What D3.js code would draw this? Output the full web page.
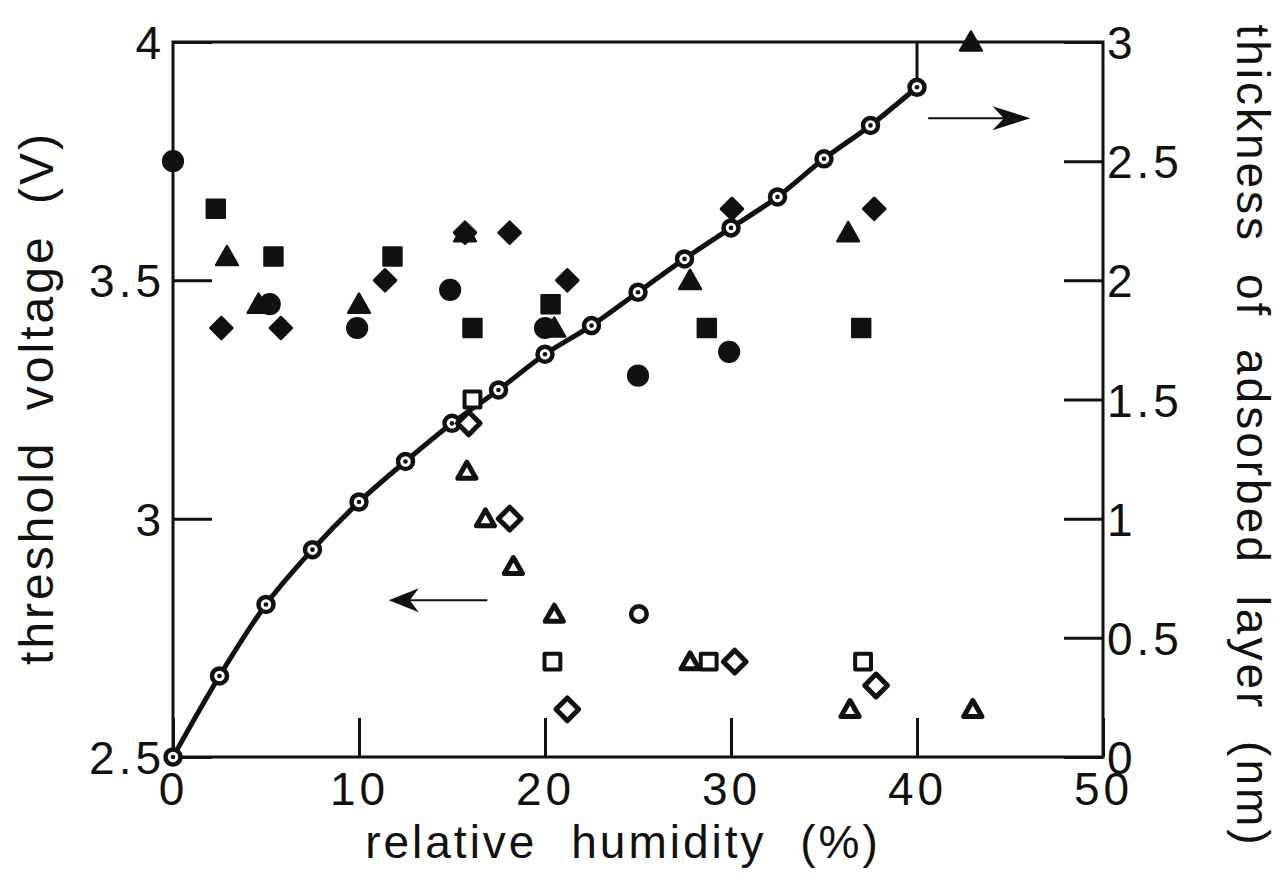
<!DOCTYPE html>
<html>
<head>
<meta charset="utf-8">
<script src="https://cdn.jsdelivr.net/npm/d3@7"></script>
<style>
  html, body { margin: 0; padding: 0; background: #fff; }
  svg { display: block; }
  text { font-family: "Liberation Sans", Arial, Helvetica, sans-serif; fill: #111; }
</style>
</head>
<body>
<svg id="chart" width="1281" height="874"></svg>
<script>
// ---- data ----
const humidityTicks = [0, 10, 20, 30, 40, 50];
const voltageTicks = [2.5, 3, 3.5, 4];
const voltageTickLabels = ["2.5", "3", "3.5", "4"];
const thicknessTicks = [0, 0.5, 1, 1.5, 2, 2.5, 3];
const thicknessTickLabels = ["0", "0.5", "1", "1.5", "2", "2.5", "3"];

// adsorbed layer thickness curve (right axis)
const curveHumidity = [0, 2.5, 5, 7.5, 10, 12.5, 15, 17.5, 20, 22.5, 25, 27.5, 30, 32.5, 35, 37.5, 40];
const curveThickness = [0, 0.34, 0.64, 0.87, 1.07, 1.24, 1.40, 1.54, 1.69, 1.81, 1.95, 2.09, 2.22, 2.35, 2.51, 2.65, 2.81];

// threshold voltage scatter (left axis)
const filledCircleX = [0, 5.2, 9.9, 14.9, 20.0, 25.0, 29.9];
const filledCircleV = [3.75, 3.45, 3.40, 3.48, 3.40, 3.30, 3.35];
const filledSquareX = [2.3, 5.4, 11.8, 16.1, 20.3, 28.7, 37.0];
const filledSquareV = [3.65, 3.55, 3.55, 3.40, 3.45, 3.40, 3.40];
const filledTriangleX = [2.9, 4.6, 10.0, 15.7, 20.5, 27.8, 36.3, 42.9];
const filledTriangleV = [3.55, 3.45, 3.45, 3.60, 3.40, 3.50, 3.60, 4.0];
const filledDiamondX = [2.6, 5.8, 11.4, 15.7, 18.1, 21.2, 30.05, 37.7];
const filledDiamondV = [3.40, 3.40, 3.50, 3.60, 3.60, 3.50, 3.65, 3.65];

const openCircleX = [25.05];
const openCircleV = [2.80];
const openSquareX = [16.1, 20.4, 28.8, 37.1];
const openSquareV = [3.25, 2.70, 2.70, 2.70];
const openTriangleX = [15.8, 16.8, 18.3, 20.5, 27.8, 36.4, 43.0];
const openTriangleV = [3.10, 3.00, 2.90, 2.80, 2.70, 2.60, 2.60];
const openDiamondX = [15.9, 18.1, 21.2, 30.2, 37.8];
const openDiamondV = [3.20, 3.00, 2.60, 2.70, 2.65];

// ---- layout ----
const svg = d3.select("#chart");
const L = 173, R = 1103, T = 42, B = 757;
const x = d3.scaleLinear().domain([0, 50]).range([L, R]);
const yV = d3.scaleLinear().domain([2.5, 4]).range([B, T]);
const yT = d3.scaleLinear().domain([0, 3]).range([B, T]);

const FS = 46;
const tickLen = 39;

// frame
svg.append("rect").attr("x", L).attr("y", T).attr("width", R - L).attr("height", B - T)
  .attr("fill", "none").attr("stroke", "#111").attr("stroke-width", 3);

// axes with inward ticks
const gB = svg.append("g").attr("transform", `translate(0,${B})`)
  .call(d3.axisBottom(x).tickValues(humidityTicks).tickSize(-tickLen).tickPadding(19).tickFormat(d3.format("d")));
const gL = svg.append("g").attr("transform", `translate(${L},0)`)
  .call(d3.axisLeft(yV).tickValues(voltageTicks).tickSize(-tickLen).tickPadding(8)
    .tickFormat((d, i) => voltageTickLabels[i]));
const gR = svg.append("g").attr("transform", `translate(${R},0)`)
  .call(d3.axisRight(yT).tickValues(thicknessTicks).tickSize(-tickLen).tickPadding(4)
    .tickFormat((d, i) => thicknessTickLabels[i]));
[gB, gL, gR].forEach(g => {
  g.select(".domain").remove();
  g.selectAll(".tick line").attr("stroke", "#111").attr("stroke-width", 3);
  g.selectAll(".tick text").attr("font-size", FS).attr("letter-spacing", "4px")
    .attr("font-family", '"Liberation Sans", Arial, sans-serif').attr("fill", "#111");
});
gB.selectAll(".tick text").attr("dy", "0.62em");
gL.selectAll(".tick text").attr("dy", "0.36em");
gR.selectAll(".tick text").attr("dy", "0.36em");
// top tick at 40
svg.append("line").attr("x1", x(40)).attr("x2", x(40)).attr("y1", T).attr("y2", T + tickLen)
  .attr("stroke", "#111").attr("stroke-width", 3);

// axis titles
svg.append("text").attr("x", 623).attr("y", 858).attr("text-anchor", "middle")
  .attr("font-size", FS).attr("letter-spacing", "3px").attr("word-spacing", "18px")
  .text("relative humidity (%)");
svg.append("text").attr("transform", "translate(53,398) rotate(-90)").attr("text-anchor", "middle")
  .attr("font-size", FS + 2).attr("letter-spacing", "3px").attr("word-spacing", "14px")
  .text("threshold voltage (V)");
svg.append("text").attr("transform", "translate(1237,436) rotate(90)").attr("text-anchor", "middle")
  .attr("font-size", FS).attr("letter-spacing", "3px").attr("word-spacing", "15px")
  .text("thickness of adsorbed layer (nm)");

// ---- marker shapes ----
const diamondSym = { draw(ctx, size) { const r = Math.sqrt(size / 2);
  ctx.moveTo(0, -r); ctx.lineTo(r, 0); ctx.lineTo(0, r); ctx.lineTo(-r, 0); ctx.closePath(); } };
const triSym = { draw(ctx, size) { const w = Math.sqrt(size); const h = w * 0.88;
  ctx.moveTo(0, -h * 0.55); ctx.lineTo(w / 2, h * 0.45); ctx.lineTo(-w / 2, h * 0.45); ctx.closePath(); } };

function pts(xs, vs) { return xs.map((d, i) => ({ x: d, v: vs[i] })); }

function drawMarkers(data, type, size, filled, sw) {
  svg.append("g").selectAll("path").data(data).join("path")
    .attr("transform", d => `translate(${x(d.x)},${yV(d.v)})`)
    .attr("d", d3.symbol().type(type).size(size))
    .attr("fill", filled ? "#111" : "#fff")
    .attr("stroke", "#111")
    .attr("stroke-width", sw)
    .attr("stroke-linejoin", "round");
}

// filled (behind curve)
drawMarkers(pts(filledSquareX, filledSquareV), d3.symbolSquare, 340, true, 2);
drawMarkers(pts(filledCircleX, filledCircleV), d3.symbolCircle, 320, true, 2);
drawMarkers(pts(filledTriangleX, filledTriangleV), triSym, 470, true, 2.5);
drawMarkers(pts(filledDiamondX, filledDiamondV), diamondSym, 230, true, 3);

// thickness curve
const curveData = curveHumidity.map((d, i) => ({ x: d, t: curveThickness[i] }));
svg.append("path").datum(curveData)
  .attr("d", d3.line().x(d => x(d.x)).y(d => yT(d.t)).curve(d3.curveMonotoneX))
  .attr("fill", "none").attr("stroke", "#111").attr("stroke-width", 5);
const cg = svg.append("g").selectAll("g").data(curveData).join("g")
  .attr("transform", d => `translate(${x(d.x)},${yT(d.t)})`);
cg.append("circle").attr("r", 7.5).attr("fill", "#fff").attr("stroke", "#111").attr("stroke-width", 4.5);
cg.append("circle").attr("r", 2.3).attr("fill", "#111");

// open markers
drawMarkers(pts(openSquareX, openSquareV), d3.symbolSquare, 250, false, 4);
drawMarkers(pts(openCircleX, openCircleV), d3.symbolCircle, 190, false, 4.5);
drawMarkers(pts(openTriangleX, openTriangleV), triSym, 330, false, 5);
drawMarkers(pts(openDiamondX, openDiamondV), diamondSym, 260, false, 5);

// ---- arrows ----
function arrow(x1, x2, y, headLen) {
  const dir = Math.sign(x2 - x1);
  svg.append("line").attr("x1", x1).attr("x2", x2 - dir * headLen * 0.6).attr("y1", y).attr("y2", y)
    .attr("stroke", "#111").attr("stroke-width", 2);
  const back = x2 - dir * headLen;
  svg.append("path")
    .attr("d", `M${x2},${y} L${back},${y - 12} L${x2 - dir * headLen * 0.7},${y} L${back},${y + 12} Z`)
    .attr("fill", "#111");
}
arrow(x(16.9), x(11.6), yV(2.829), 30);
arrow(x(40.6), x(46.1), yT(2.68), 38);
</script>
</body>
</html>
